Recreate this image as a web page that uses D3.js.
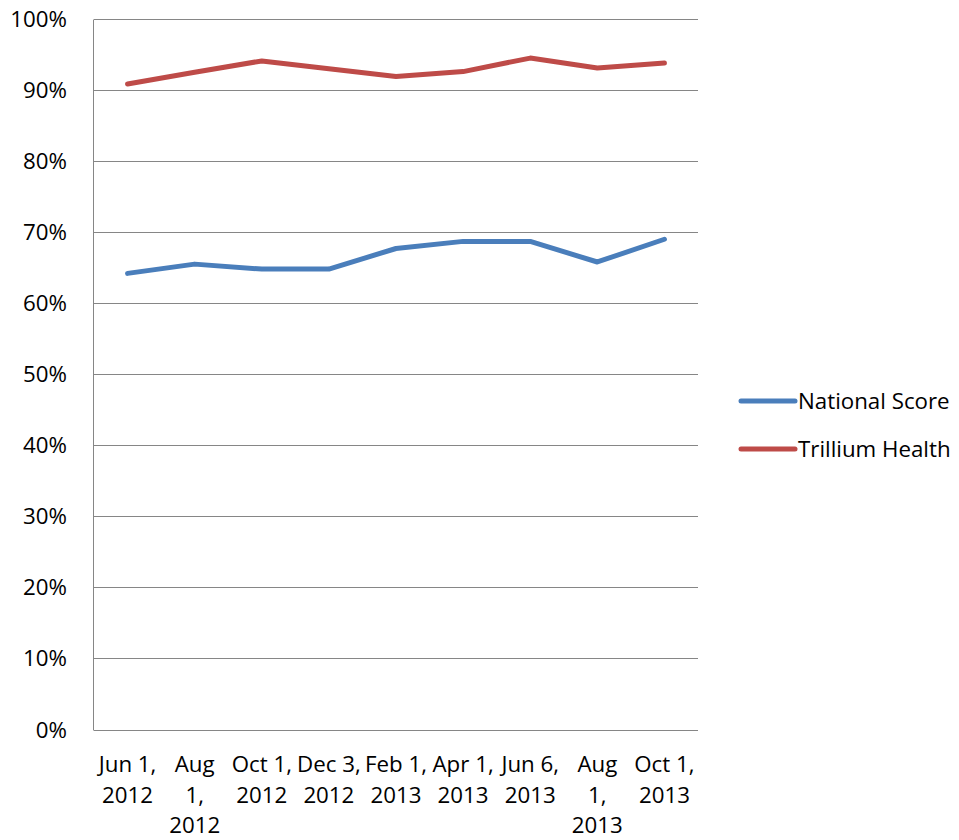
<!DOCTYPE html>
<html>
<head>
<meta charset="utf-8">
<script src="https://cdn.jsdelivr.net/npm/d3@7"></script>
<style>
  html, body { margin: 0; padding: 0; background: #fff; }
  svg { display: block; }
  text { font-family: "Open Sans", "Noto Sans", sans-serif; fill: #000; }
</style>
</head>
<body>
<svg id="chart" width="959" height="840"></svg>
<script>
// Survey dates (category axis), each split into its wrapped label lines
const categories = ["Jun 1, 2012", "Aug 1, 2012", "Oct 1, 2012", "Dec 3, 2012", "Feb 1, 2013",
                    "Apr 1, 2013", "Jun 6, 2013", "Aug 1, 2013", "Oct 1, 2013"];
const categoryLines = [["Jun 1,", "2012"], ["Aug", "1,", "2012"], ["Oct 1,", "2012"], ["Dec 3,", "2012"],
                       ["Feb 1,", "2013"], ["Apr 1,", "2013"], ["Jun 6,", "2013"], ["Aug", "1,", "2013"],
                       ["Oct 1,", "2013"]];

// Scores in percent
const nationalScore  = [64.2, 65.5, 64.8, 64.8, 67.7, 68.7, 68.7, 65.8, 69.0];
const trilliumHealth = [90.85, 92.5, 94.1, 93.0, 91.9, 92.6, 94.5, 93.1, 93.8];

const yTicks = [0, 10, 20, 30, 40, 50, 60, 70, 80, 90, 100];
const seriesNames = ["National Score", "Trillium Health"];
const seriesColors = ["#4a7ebb", "#be4b48"];

const fontSize = 22.3;
const svg = d3.select("#chart");
const plot = { left: 94, right: 698, top: 19, bottom: 729.5 };

const x = d3.scaleBand().domain(categories).range([plot.left, plot.right]).padding(0);
const y = d3.scaleLinear().domain([0, 100]).range([plot.bottom, plot.top]);

// Horizontal gridlines
svg.append("g")
  .selectAll("line")
  .data(yTicks)
  .join("line")
  .attr("x1", plot.left).attr("x2", plot.right)
  .attr("y1", d => Math.round(y(d)) + 0.5).attr("y2", d => Math.round(y(d)) + 0.5)
  .attr("stroke", "#868686").attr("stroke-width", 1);

// Vertical axis line
svg.append("line")
  .attr("x1", plot.left - 0.5).attr("x2", plot.left - 0.5)
  .attr("y1", Math.round(y(100)) + 0.5).attr("y2", Math.round(y(0)) + 0.5)
  .attr("stroke", "#868686").attr("stroke-width", 1);

// Y tick labels
svg.append("g")
  .selectAll("text")
  .data(yTicks)
  .join("text")
  .attr("x", 67)
  .attr("y", d => y(d))
  .attr("dy", "0.36em")
  .attr("text-anchor", "end")
  .attr("font-size", fontSize)
  .text(d => d + "%");

// X tick labels (wrapped)
const xLabels = svg.append("g")
  .selectAll("text")
  .data(categories)
  .join("text")
  .attr("text-anchor", "middle")
  .attr("font-size", fontSize)
  .attr("x", d => x(d) + x.bandwidth() / 2)
  .attr("y", 772);
xLabels.each(function (d, i) {
  d3.select(this).selectAll("tspan")
    .data(categoryLines[i])
    .join("tspan")
    .attr("x", x(d) + x.bandwidth() / 2)
    .attr("dy", (l, j) => j === 0 ? 0 : 30.5)
    .text(l => l);
});

// Series lines
const line = d3.line()
  .x((v, i) => x(categories[i]) + x.bandwidth() / 2)
  .y(v => y(v));

[nationalScore, trilliumHealth].forEach((vals, k) => {
  svg.append("path")
    .datum(vals)
    .attr("d", line)
    .attr("fill", "none")
    .attr("stroke", seriesColors[k])
    .attr("stroke-width", 5)
    .attr("stroke-linecap", "round")
    .attr("stroke-linejoin", "round");
});

// Legend
const legend = svg.append("g")
  .selectAll("g")
  .data(seriesNames)
  .join("g")
  .attr("transform", (d, i) => `translate(0, ${401 + i * 48})`);
legend.append("line")
  .attr("x1", 741).attr("x2", 795)
  .attr("y1", 0).attr("y2", 0)
  .attr("stroke", (d, i) => seriesColors[i])
  .attr("stroke-width", 5)
  .attr("stroke-linecap", "round");
legend.append("text")
  .attr("x", 798).attr("y", 0).attr("dy", "0.36em")
  .attr("font-size", fontSize)
  .text(d => d);
</script>
</body>
</html>
